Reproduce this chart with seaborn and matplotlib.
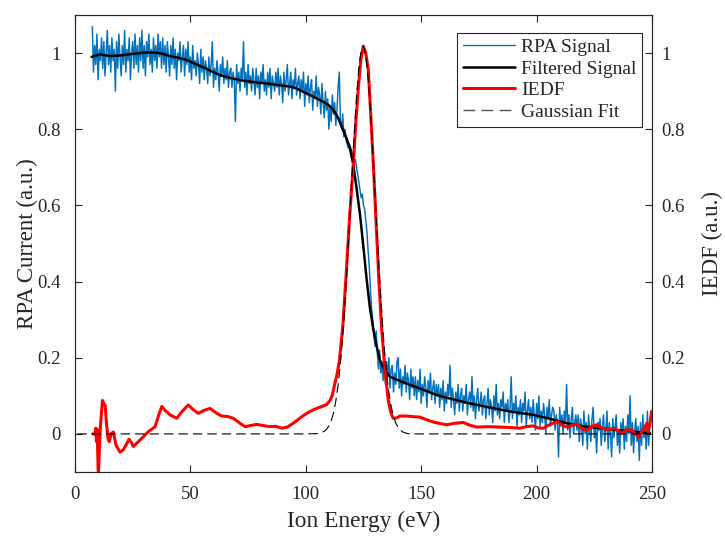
import numpy as np
import pandas as pd
import matplotlib
matplotlib.use("Agg")
import matplotlib.pyplot as plt
import seaborn as sns
from matplotlib.lines import Line2D

# ---- raw RPA current, sampled every 0.5 eV starting at 7.5 eV ----
rpa_start_ev = 7.5
rpa_step_ev = 0.5
rpa_signal = [
    1.07, 0.95, 1.02, 0.97, 1.05, 0.93, 1.01, 0.98, 1.04, 0.96, 1.03, 0.94, 1.00, 1.06, 0.97, 1.02, 0.95, 1.04, 0.98, 1.01,
    0.90, 1.03, 0.96, 1.05, 0.99, 0.94, 1.02, 0.97, 1.06, 0.95, 1.01, 0.98, 1.04, 0.93, 1.00, 1.03, 0.96, 1.05, 0.97, 1.02,
    0.95, 1.04, 0.98, 1.06, 0.96, 1.02, 0.94, 1.03, 0.99, 1.05, 0.97, 1.01, 0.95, 1.04, 0.98, 1.02, 0.96, 1.05, 0.99, 1.03,
    0.96, 1.04, 0.97, 1.02, 0.95, 1.03, 0.99, 0.94, 1.02, 0.97, 1.04, 0.96, 1.01, 0.93, 1.00, 0.98, 1.03, 0.95, 0.99, 1.02,
    0.94, 1.01, 0.97, 1.03, 0.95, 0.99, 0.93, 1.02, 0.96, 0.98, 0.94, 1.00, 0.97, 0.92, 1.01, 0.95, 0.99, 0.93, 0.98, 0.96,
    0.92, 0.99, 0.94, 0.97, 1.03, 0.91, 0.96, 0.93, 0.98, 0.95, 0.90, 0.97, 0.94, 0.99, 0.92, 0.96, 0.93, 0.98, 0.91, 0.95,
    0.96, 0.91, 0.95, 0.93, 0.82, 0.97, 0.92, 0.95, 0.90, 0.96, 0.93, 1.03, 0.91, 0.95, 0.89, 0.97, 0.92, 0.94, 0.90, 0.96,
    0.93, 0.89, 0.96, 0.91, 0.94, 0.88, 0.95, 0.92, 0.97, 0.90, 0.93, 0.89, 0.95, 0.91, 0.96, 0.88, 0.94, 0.92, 0.90, 0.95,
    0.91, 0.96, 0.89, 0.94, 0.92, 0.87, 0.95, 0.90, 0.93, 0.97, 0.89, 0.92, 0.95, 0.88, 0.93, 0.91, 0.96, 0.89, 0.92, 0.94,
    0.88, 0.93, 0.90, 0.95, 0.86, 0.92, 0.89, 0.94, 0.87, 0.91, 0.93, 0.85, 0.90, 0.88, 0.94, 0.86, 0.91, 0.89, 0.84, 0.92,
    0.87, 0.83, 0.90, 0.85, 0.88, 0.80, 0.86, 0.82, 0.89, 0.84, 0.87, 0.81, 0.85, 0.91, 0.95, 0.82, 0.80, 0.84, 0.78, 0.80,
    0.77, 0.76, 0.75, 0.76, 0.75, 0.74, 0.74, 0.72, 0.72, 0.70, 0.68, 0.66, 0.64, 0.62, 0.63, 0.60, 0.59, 0.56, 0.53, 0.48,
    0.44, 0.38, 0.33, 0.30, 0.26, 0.23, 0.27, 0.21, 0.17, 0.22, 0.16, 0.19, 0.14, 0.18, 0.13, 0.19, 0.15, 0.20, 0.12, 0.17,
    0.18, 0.11, 0.16, 0.13, 0.19, 0.20, 0.12, 0.17, 0.10, 0.15, 0.13, 0.18, 0.11, 0.16, 0.14, 0.09, 0.17, 0.12, 0.15, 0.10,
    0.15, 0.09, 0.14, 0.11, 0.17, 0.08, 0.13, 0.10, 0.15, 0.12, 0.07, 0.14, 0.11, 0.16, 0.09, 0.12, 0.14, 0.08, 0.13, 0.10,
    0.13, 0.07, 0.12, 0.09, 0.14, 0.06, 0.11, 0.08, 0.13, 0.10, 0.18, 0.07, 0.12, 0.09, 0.05, 0.11, 0.08, 0.13, 0.06, 0.10,
    0.12, 0.06, 0.10, 0.08, 0.13, 0.05, 0.09, 0.11, 0.07, 0.15, 0.06, 0.10, 0.04, 0.09, 0.12, 0.06, 0.08, 0.11, 0.05, 0.09,
    0.10, 0.04, 0.08, 0.12, 0.05, 0.09, 0.07, 0.03, 0.10, 0.06, 0.13, 0.05, 0.08, 0.04, 0.09, 0.07, 0.11, 0.03, 0.08, 0.06,
    0.09, 0.03, 0.07, 0.15, 0.04, 0.08, 0.06, 0.10, 0.02, 0.07, 0.05, 0.09, 0.03, 0.08, 0.06, 0.11, 0.02, 0.06, 0.09, 0.04,
    0.07, 0.03, 0.09, 0.05, 0.01, 0.08, 0.04, 0.10, 0.02, 0.06, 0.03, 0.08, 0.05, 0.00, 0.07, 0.04, 0.09, 0.02, 0.05, 0.07,
    0.06, 0.01, 0.05, 0.03, -0.06, 0.07, 0.02, 0.05, 0.00, 0.06, 0.03, 0.13, 0.01, 0.05, -0.01, 0.04, 0.07, 0.00, 0.03, 0.05,
    0.01, 0.05, -0.02, 0.04, 0.02, -0.03, 0.06, 0.00, 0.03, -0.04, 0.05, 0.01, -0.02, 0.04, 0.07, -0.01, 0.02, -0.05, 0.03, 0.01,
    0.04, -0.03, 0.02, 0.05, -0.02, 0.01, 0.06, -0.04, 0.03, 0.00, -0.06, 0.04, -0.01, 0.02, 0.05, -0.03, 0.01, -0.05, 0.03, 0.00,
    0.04, -0.04, 0.02, -0.02, 0.05, 0.00, 0.10, -0.03, 0.03, -0.05, 0.01, 0.04, -0.02, 0.02, -0.07, 0.03, -0.03, 0.05, -0.01, 0.02,
    -0.04, 0.06, -0.03, 0.01,
]

# ---- low-pass filtered RPA current ----
filt_energy = [7.2, 10.8, 15.2, 20.0, 23.8, 28.0, 31.1, 35.4, 38.0, 41.2, 44.5, 48.4, 52.0, 54.2, 56.3,
               59.5, 62.8, 67.0, 71.5, 77.0, 83.1, 88.0, 93.2, 96.0, 98.9, 101.8, 104.7, 107.3, 109.8,
               111.8, 114.0, 116.0, 117.5, 119.0, 120.5, 122.0, 123.5, 124.2, 125.3, 126.4, 127.8, 129.3,
               130.7, 132.1, 133.5, 134.8, 136.5, 140.0, 145.1, 150.0, 156.7, 163.0, 171.1, 180.0, 188.5,
               193.0, 198.6, 205.0, 213.0, 220.0, 227.5, 235.0, 241.9, 249.1]
filt_signal = [0.990, 0.997, 0.992, 0.994, 0.997, 1.000, 1.002, 1.001, 0.998, 0.992, 0.988, 0.982, 0.972,
               0.966, 0.961, 0.951, 0.942, 0.935, 0.929, 0.924, 0.920, 0.916, 0.912, 0.907, 0.898, 0.890,
               0.881, 0.873, 0.864, 0.852, 0.830, 0.800, 0.778, 0.753, 0.710, 0.645, 0.575, 0.535, 0.470,
               0.404, 0.330, 0.273, 0.230, 0.194, 0.175, 0.162, 0.150, 0.141, 0.129, 0.118, 0.102, 0.092,
               0.080, 0.069, 0.059, 0.055, 0.050, 0.041, 0.028, 0.020, 0.015, 0.010, 0.006, 0.002]

# ---- ion energy distribution function (derivative of the filtered signal) ----
iedf_energy = [7.7, 8.6, 9.0, 9.3, 9.6, 10.1, 11.0, 11.9, 12.4, 13.1, 13.6, 14.4, 14.9, 15.6, 16.6, 17.8,
               19.5, 20.9, 22.0, 23.4, 24.4, 25.3, 27.5, 30.0, 31.8, 34.7, 36.3, 37.6, 39.0, 41.2, 44.1,
               46.5, 49.1, 51.0, 53.4, 56.0, 58.5, 61.0, 63.5, 66.0, 68.6, 71.0, 73.7, 76.0, 78.7, 81.5,
               84.5, 87.0, 89.5, 92.0, 95.0, 98.9, 101.8, 104.7, 107.0, 109.0, 110.5, 111.5, 112.6, 113.5,
               114.5, 116.0, 117.5, 118.9, 120.6, 121.7, 122.8, 123.9, 124.9, 126.0, 127.1, 128.5, 129.5,
               130.4, 131.7, 132.9, 134.3, 135.7, 136.9, 137.9, 139.3, 140.8, 143.7, 147.0, 149.5, 152.4,
               156.0, 161.0, 164.5, 168.3, 171.0, 174.0, 179.0, 184.1, 188.0, 192.8, 195.5, 198.5, 200.5,
               202.9, 205.5, 208.7, 211.0, 213.0, 215.0, 217.4, 219.5, 221.7, 224.0, 226.0, 228.0, 230.4,
               233.9, 235.5, 236.9, 239.0, 241.2, 242.8, 244.1, 245.5, 246.5, 247.7, 248.4, 249.2, 249.8]
iedf_values = [0.000, 0.000, 0.015, -0.020, 0.012, -0.110, 0.020, 0.088, 0.080, 0.075, 0.030, -0.015,
               -0.020, 0.000, 0.005, -0.030, -0.048, -0.042, -0.030, -0.014, -0.022, -0.033, -0.020,
               -0.005, 0.006, 0.019, 0.050, 0.072, 0.062, 0.050, 0.041, 0.060, 0.076, 0.065, 0.054,
               0.062, 0.067, 0.056, 0.047, 0.046, 0.041, 0.030, 0.019, 0.022, 0.025, 0.022, 0.019, 0.020,
               0.015, 0.018, 0.030, 0.048, 0.059, 0.067, 0.072, 0.077, 0.088, 0.102, 0.133, 0.155, 0.190,
               0.280, 0.420, 0.562, 0.710, 0.820, 0.911, 0.985, 1.018, 1.000, 0.955, 0.798, 0.680, 0.562,
               0.400, 0.273, 0.168, 0.089, 0.055, 0.041, 0.042, 0.047, 0.047, 0.045, 0.044, 0.037, 0.030,
               0.024, 0.028, 0.030, 0.023, 0.018, 0.019, 0.018, 0.017, 0.015, 0.019, 0.021, 0.016, 0.015,
               0.024, 0.032, 0.024, 0.018, 0.022, 0.026, 0.015, 0.009, 0.020, 0.024, 0.016, 0.011, 0.015,
               0.008, 0.002, 0.010, 0.011, 0.000, -0.009, 0.005, 0.012, 0.028, 0.006, 0.030, 0.059]

# ---- Gaussian fit of the IEDF peak ----
fit_energy = [1.0, 100.0, 104, 105, 106, 107, 108, 109, 110, 111, 112, 113, 114, 115, 116, 117, 118, 119,
              120, 121, 122, 123, 124, 125, 126, 127, 128, 129, 130, 131, 132, 133, 134, 135, 136, 137,
              138, 139, 140, 141, 142, 143, 144, 145, 146, 249.5]
fit_values = [0.0, 0.0, 0.0005, 0.001, 0.002, 0.004, 0.007, 0.012, 0.021, 0.034, 0.055, 0.086, 0.128,
              0.185, 0.257, 0.345, 0.448, 0.560, 0.677, 0.789, 0.887, 0.963, 1.008, 1.019, 0.994, 0.935,
              0.850, 0.745, 0.630, 0.515, 0.405, 0.308, 0.226, 0.160, 0.109, 0.072, 0.046, 0.028, 0.017,
              0.010, 0.005, 0.003, 0.001, 0.0005, 0.0, 0.0]

x_ticks = [0, 50, 100, 150, 200, 250]
y_ticks = [0, 0.2, 0.4, 0.6, 0.8, 1.0]
y_tick_labels = ["0", "0.2", "0.4", "0.6", "0.8", "1"]

rpa_df = pd.DataFrame({
    "energy": rpa_start_ev + rpa_step_ev * np.arange(len(rpa_signal)),
    "current": rpa_signal,
})
filt_df = pd.DataFrame({"energy": filt_energy, "current": filt_signal})
iedf_df = pd.DataFrame({"energy": iedf_energy, "iedf": iedf_values})
fit_df = pd.DataFrame({"energy": fit_energy, "iedf": fit_values})

sns.set_theme(style="white")
plt.rcParams["font.family"] = ["Liberation Serif", "DejaVu Serif"]
plt.rcParams["axes.edgecolor"] = "#262626"
plt.rcParams["axes.linewidth"] = 0.8

blue = "#0072BD"
fig = plt.figure(figsize=(7.25, 5.37), dpi=100)
ax = fig.add_axes([75 / 725, 1 - 472 / 537, 577 / 725, 457 / 537])
ax2 = ax.twinx()

sns.lineplot(data=rpa_df, x="energy", y="current", ax=ax, color=blue, lw=1.05,
             estimator=None, sort=False, zorder=2)
sns.lineplot(data=filt_df, x="energy", y="current", ax=ax, color="black", lw=1.8,
             estimator=None, sort=False, zorder=3)
sns.lineplot(data=iedf_df, x="energy", y="iedf", ax=ax2, color="#FF0000", lw=2.2,
             estimator=None, sort=False, zorder=2, solid_joinstyle="round")
sns.lineplot(data=fit_df, x="energy", y="iedf", ax=ax2, color="black", lw=0.8,
             linestyle=(0, (8.5, 4.5)), estimator=None, sort=False, zorder=3)

for a in (ax, ax2):
    a.set_xlim(0, 250)
    a.set_ylim(-0.1, 1.1)
    a.set_yticks(y_ticks)
    a.set_yticklabels(y_tick_labels)
    a.grid(False)

ax.set_xticks(x_ticks)
ax.set_xticklabels([str(t) for t in x_ticks])
ax.tick_params(axis="x", direction="in", length=5, width=0.8, top=True, bottom=True,
               labelsize=13.5, colors="#262626", pad=10)
ax.tick_params(axis="y", direction="in", length=5, width=0.8, left=True, right=False,
               labelsize=13.5, colors="#262626", pad=10)
ax2.tick_params(axis="y", direction="in", length=5, width=0.8, left=False, right=True,
                labelsize=13.5, colors="#262626", pad=7)

ax.set_xlabel("Ion Energy (eV)", fontsize=16.8, color="#262626", labelpad=6)
ax.set_ylabel("RPA Current (a.u.)", fontsize=16.5, color="#262626", labelpad=0)
ax2.set_ylabel("IEDF (a.u.)", fontsize=16.5, color="#262626", labelpad=12)

handles = [
    Line2D([], [], color=blue, lw=1.0),
    Line2D([], [], color="black", lw=1.8),
    Line2D([], [], color="#FF0000", lw=2.2),
    Line2D([], [], color="#555555", lw=1.0, linestyle=(0, (8.5, 4.5))),
]
labels = ["RPA Signal", "Filtered Signal", "IEDF", "Gaussian Fit"]
leg = ax2.legend(handles, labels, loc="upper right", bbox_to_anchor=(0.983, 0.961),
                 fontsize=14, frameon=True, fancybox=False, framealpha=1,
                 edgecolor="#262626", handlelength=2.7, handletextpad=0.3,
                 labelspacing=0.2, borderpad=0.3, borderaxespad=0)
leg.get_frame().set_linewidth(0.8)

fig.savefig("out.png", dpi=100)
